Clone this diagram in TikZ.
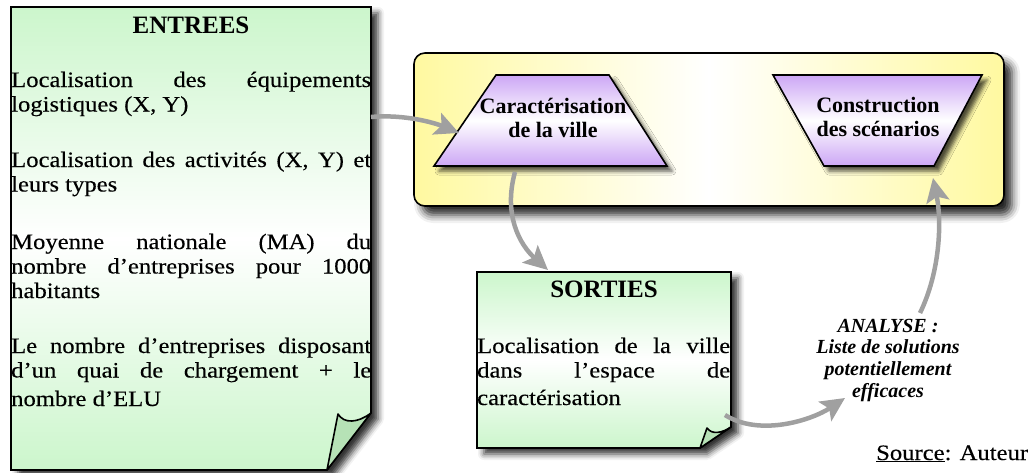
\documentclass[tikz,border=0pt]{standalone}
\usepackage{fontspec}
\setmainfont{Liberation Serif}
\newfontfamily\bodyfont[FakeStretch=1.12,FakeBold=0.25]{Liberation Serif}
\usetikzlibrary{arrows.meta,shadows.blur}
\definecolor{notegreen}{RGB}{204,246,204}
\definecolor{flapgreen}{RGB}{182,226,182}
\definecolor{boxyellow}{RGB}{255,249,160}
\definecolor{trappurple}{RGB}{204,166,245}
\definecolor{arrowgray}{RGB}{160,160,160}
\newcommand{\jl}[2]{\makebox[#1][s]{#2}}
\begin{document}
\begin{tikzpicture}[x=1pt,y=-1pt,
  note/.style={draw=black,line width=1.6pt,line join=miter,
    top color=notegreen,bottom color=notegreen,middle color=white,
    blur shadow={shadow xshift=7pt,shadow yshift=-6pt,shadow blur radius=6pt,shadow opacity=80}},
  flap/.style={draw=black,line width=1.6pt,line join=round,fill=flapgreen},
  ybox/.style={draw=black,line width=1.6pt,rounded corners=11pt,
    left color=boxyellow,right color=boxyellow,middle color=white,
    blur shadow={shadow xshift=8pt,shadow yshift=-9pt,shadow blur radius=8pt,shadow opacity=85}},
  trap/.style={draw=black,line width=1.6pt,line join=miter,
    top color=trappurple,bottom color=trappurple,middle color=white,
    blur shadow={shadow xshift=5pt,shadow yshift=-5pt,shadow blur radius=4pt,shadow opacity=70}},
  title/.style={font=\bfseries\fontsize{25}{28}\selectfont,inner sep=0pt,anchor=base},
  tlabel/.style={font=\bfseries\fontsize{22}{24}\selectfont,inner sep=0pt,anchor=base},
  body/.style={font=\bodyfont\fontsize{22}{24.5}\selectfont,inner sep=0pt,anchor=base west},
  analyse/.style={font=\bfseries\itshape\fontsize{20}{21.7}\selectfont,inner sep=0pt,anchor=base},
  arr/.style={draw=arrowgray,line width=4.5pt,
    -{Stealth[length=24pt,width=23pt,inset=5pt]}}
]
\useasboundingbox (0,0) rectangle (1031,472);

% ENTREES note
\path[note] (11,7) -- (371,7) -- (371,413) -- (327,470) -- (11,470) -- cycle;
\path[flap] (338,414) .. controls (344,424) and (358,423) .. (371,413) -- (327,470) -- cycle;
\node[title] (entrees) at (191,33) {ENTREES};
\node[body] (e1) at (11,87) {\begin{tabular}[t]{@{}l@{}}\jl{360pt}{Localisation des équipements}\\logistiques (X, Y)\end{tabular}};
\node[body] (e2) at (11,167) {\begin{tabular}[t]{@{}l@{}}\jl{360pt}{Localisation des activités (X, Y) et}\\leurs types\end{tabular}};
\node[body] (e3) at (11,249) {\begin{tabular}[t]{@{}l@{}}\jl{360pt}{Moyenne nationale (MA) du}\\\jl{360pt}{nombre d’entreprises pour 1000}\\habitants\end{tabular}};
\node[body] (e4) at (11,353) {\begin{tabular}[t]{@{}l@{}}\jl{360pt}{Le nombre d’entreprises disposant}\\\jl{360pt}{d’un quai de chargement + le}\\[4pt]nombre d’ELU\end{tabular}};

% yellow box with trapezoids
\path[ybox] (414,53) rectangle (1004,206);
\path[trap] (496,75) -- (609,75) -- (667,166) -- (434,166) -- cycle;
\path[trap] (773,75) -- (982,75) -- (934,166) -- (824,166) -- cycle;
\node[tlabel] (carac) at (553,113) {\begin{tabular}[t]{@{}c@{}}Caractérisation\\de la ville\end{tabular}};
\node[tlabel] (constr) at (878,112) {\begin{tabular}[t]{@{}c@{}}Construction\\des scénarios\end{tabular}};

% SORTIES note
\path[note] (477,272) -- (731,272) -- (731,427) -- (700,448) -- (477,448) -- cycle;
\path[flap] (707,428) .. controls (712,435) and (722,433) .. (731,427) -- (700,448) -- cycle;
\node[title] (sorties) at (604,297) {SORTIES};
\node[body] (s1) at (477,353) {\begin{tabular}[t]{@{}l@{}}\jl{253pt}{Localisation de la ville}\\\jl{253pt}{dans l’espace de}\\[3pt]caractérisation\end{tabular}};

% ANALYSE
\node[analyse] (analyse) at (888,332) {\begin{tabular}[t]{@{}c@{}}ANALYSE~:\\Liste de solutions\\potentiellement\\efficaces\end{tabular}};

% Source
\node[body] (source) at (876,460) {\underline{Source}: Auteur};

% connector ends
\coordinate (a1s) at (371,117);
\coordinate (a1e) at (459,133);
\coordinate (a2s) at (515,172);
\coordinate (a2e) at (548,270);
\coordinate (a3s) at (725,415);
\coordinate (a3e) at (845,398);
\coordinate (a4s) at (920,313);
\coordinate (a4e) at (933,178);

\draw[arr] (a1s) .. controls (405,114) and (435,123) .. (a1e);
\draw[arr] (a2s) .. controls (503,215) and (520,245) .. (a2e);
\draw[arr] (a3s) .. controls (760,437) and (812,420) .. (a3e);
\draw[arr] (a4s) .. controls (940,272) and (942,222) .. (a4e);
\end{tikzpicture}
\end{document}
